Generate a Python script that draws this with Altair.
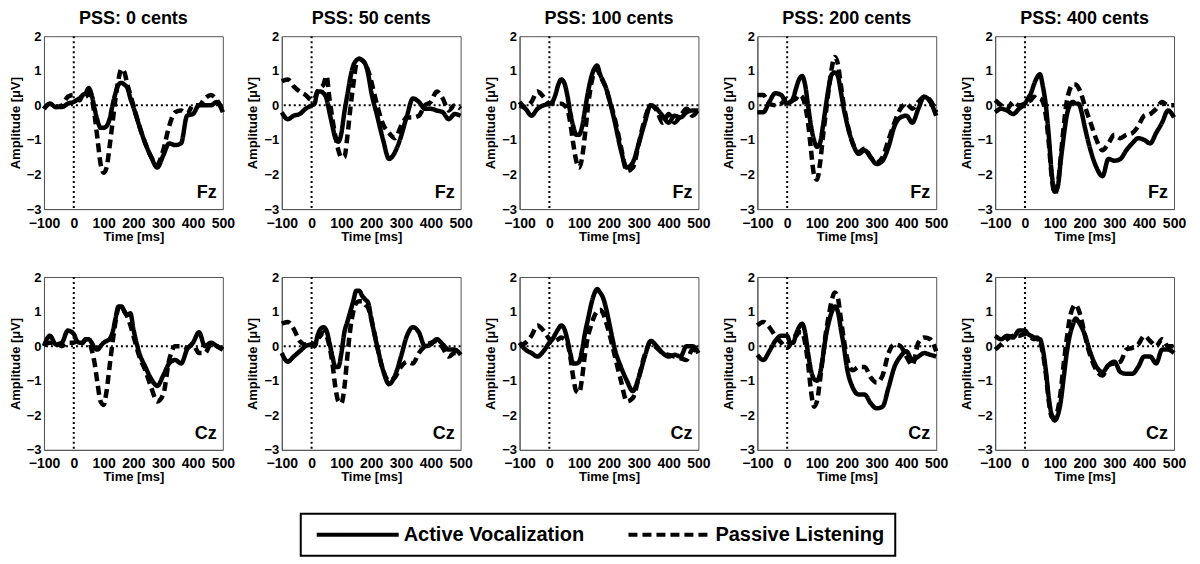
import altair as alt
import pandas as pd

T = [-100, -80, -60, -40, -20] + list(range(0, 201, 10)) + list(range(220, 501, 20))

PSS = ["PSS: 0 cents", "PSS: 50 cents", "PSS: 100 cents", "PSS: 200 cents", "PSS: 400 cents"]
SITES = ["Fz", "Cz"]
CONDS = ["Active Vocalization", "Passive Listening"]
X_TICKS = [-100, 0, 100, 200, 300, 400, 500]
Y_TICKS = [-3, -2, -1, 0, 1, 2]

fz0_act = [-0.1, 0.05, -0.05, -0.05, 0.05, 0.1, 0.15, 0.2, 0.3, 0.35, 0.5, 0.3, -0.1, -0.45, -0.65, -0.65, -0.6, -0.4, 0.0, 0.35, 0.6, 0.65, 0.6, 0.5, 0.2, -0.05, -0.6, -1.1, -1.5, -1.8, -1.45, -1.1, -1.15, -1.1, -0.3, -0.25, 0.0, 0.0, 0.0, 0.1, -0.2]
fz0_pas = [-0.1, 0.05, -0.05, 0.0, 0.25, 0.3, 0.2, 0.15, 0.3, 0.25, 0.35, 0.2, -0.3, -1.0, -1.7, -1.95, -1.8, -1.2, -0.5, 0.2, 0.75, 1.05, 0.95, 0.6, 0.3, 0.0, -0.6, -1.1, -1.5, -1.7, -1.3, -0.6, -0.2, -0.15, -0.25, 0.0, 0.0, 0.2, 0.3, 0.15, -0.15]
fz50_act = [-0.2, -0.4, -0.3, -0.25, -0.1, 0.0, 0.05, 0.4, 0.4, 0.35, 0.2, -0.2, -0.6, -0.95, -1.05, -0.8, -0.2, 0.3, 0.8, 1.15, 1.3, 1.35, 1.3, 1.2, 0.9, 0.4, -0.3, -1.0, -1.55, -1.35, -0.9, -0.3, 0.2, 0.1, -0.1, -0.1, -0.15, -0.2, -0.4, -0.25, -0.3]
fz50_pas = [0.7, 0.75, 0.55, 0.4, 0.3, 0.15, 0.2, 0.4, 0.5, 0.6, 0.85, 0.2, -0.4, -0.9, -1.3, -1.5, -1.5, -0.9, -0.1, 0.6, 1.2, 1.35, 1.3, 1.2, 1.0, 0.7, 0.0, -0.55, -0.8, -0.95, -0.6, -0.35, -0.35, -0.3, 0.0, 0.1, 0.4, 0.2, -0.15, 0.0, -0.1]
fz100_act = [0.0, -0.1, -0.3, -0.1, 0.0, 0.05, 0.1, 0.3, 0.6, 0.75, 0.65, 0.3, -0.2, -0.6, -0.85, -0.85, -0.6, -0.1, 0.4, 0.8, 1.05, 1.15, 0.9, 0.7, 0.5, 0.2, -0.5, -1.3, -1.8, -1.65, -1.1, -0.5, 0.0, -0.1, -0.3, -0.5, -0.3, -0.35, -0.2, -0.15, -0.15]
fz100_pas = [0.1, -0.05, 0.1, 0.4, 0.25, 0.05, 0.05, 0.05, 0.05, 0.05, 0.0, -0.1, -0.5, -1.1, -1.6, -1.8, -1.5, -0.8, 0.0, 0.6, 0.95, 1.05, 0.85, 0.7, 0.5, 0.2, -0.4, -1.2, -1.9, -1.8, -1.1, -0.4, 0.0, -0.15, -0.5, -0.25, -0.5, -0.3, -0.1, -0.3, -0.1]
fz200_act = [-0.2, -0.2, 0.1, 0.35, 0.3, 0.05, 0.1, 0.2, 0.5, 0.75, 0.85, 0.6, 0.0, -0.6, -1.0, -1.2, -1.1, -0.6, 0.0, 0.55, 0.9, 0.95, 0.85, 0.4, -0.1, -0.5, -1.1, -1.4, -1.3, -1.5, -1.7, -1.6, -1.2, -0.6, -0.35, -0.3, -0.5, -0.1, 0.25, 0.1, -0.3]
fz200_pas = [0.3, 0.3, 0.05, 0.0, 0.05, 0.2, 0.1, 0.15, 0.2, 0.3, 0.25, 0.0, -0.5, -1.3, -2.0, -2.15, -1.7, -0.9, -0.2, 0.5, 1.1, 1.4, 1.2, 0.6, 0.0, -0.45, -1.1, -1.35, -1.25, -1.5, -1.65, -1.5, -1.0, -0.5, -0.1, 0.05, -0.1, 0.1, 0.25, 0.15, -0.2]
fz400_act = [-0.2, -0.1, -0.15, -0.25, -0.1, 0.05, 0.2, 0.35, 0.6, 0.8, 0.9, 0.55, 0.0, -0.9, -2.0, -2.5, -2.35, -1.6, -0.9, -0.3, 0.0, 0.1, 0.05, 0.05, -0.2, -0.6, -1.3, -1.8, -2.05, -1.55, -1.6, -1.55, -1.3, -1.1, -0.95, -1.0, -1.1, -0.8, -0.5, -0.15, -0.35]
fz400_pas = [0.15, 0.0, -0.1, 0.1, 0.0, 0.05, 0.1, 0.15, 0.25, 0.2, 0.2, 0.1, -0.3, -1.1, -2.1, -2.55, -2.3, -1.5, -0.6, 0.1, 0.45, 0.6, 0.6, 0.5, 0.3, 0.0, -0.5, -1.0, -1.3, -1.1, -0.85, -0.95, -0.85, -0.8, -0.6, -0.3, -0.25, -0.1, 0.1, 0.0, 0.0]

cz0_act = [0.0, 0.3, 0.05, 0.1, 0.45, 0.35, 0.15, 0.1, 0.1, 0.2, 0.2, 0.1, -0.05, -0.1, 0.0, 0.1, 0.15, 0.2, 0.4, 0.8, 1.15, 1.15, 1.0, 0.9, 0.95, 0.5, -0.2, -0.6, -0.95, -1.15, -0.85, -0.5, -0.4, -0.5, -0.1, 0.1, 0.4, 0.0, 0.1, 0.0, -0.1]
cz0_pas = [0.05, 0.1, 0.1, 0.0, 0.1, 0.1, 0.15, 0.05, 0.1, 0.2, 0.15, -0.1, -0.5, -1.1, -1.6, -1.7, -1.3, -0.6, 0.1, 0.7, 1.1, 1.15, 1.0, 0.85, 0.6, 0.3, -0.3, -0.7, -1.2, -1.6, -1.4, -0.4, 0.0, 0.0, -0.05, 0.05, -0.2, -0.2, 0.05, 0.0, -0.1]
cz50_act = [-0.2, -0.45, -0.3, -0.15, 0.0, 0.05, 0.0, 0.3, 0.5, 0.55, 0.45, 0.1, -0.3, -0.6, -0.6, -0.2, 0.4, 0.7, 1.0, 1.3, 1.6, 1.6, 1.45, 1.35, 1.25, 0.8, 0.0, -0.7, -1.1, -0.85, -0.3, 0.3, 0.55, 0.4, 0.0, 0.05, 0.2, 0.05, -0.1, -0.1, -0.25]
cz50_pas = [0.65, 0.7, 0.5, 0.15, 0.05, 0.1, 0.0, 0.2, 0.3, 0.4, 0.3, 0.0, -0.5, -1.2, -1.6, -1.65, -1.2, -0.3, 0.5, 1.0, 1.25, 1.3, 1.3, 1.2, 1.1, 0.8, 0.0, -0.7, -1.0, -0.9, -0.6, -0.45, -0.5, -0.2, 0.0, 0.1, 0.15, -0.05, -0.3, -0.2, -0.25]
cz100_act = [0.1, -0.1, -0.2, -0.3, -0.15, 0.1, 0.2, 0.35, 0.5, 0.6, 0.5, 0.2, -0.2, -0.5, -0.5, -0.45, -0.1, 0.4, 0.8, 1.2, 1.5, 1.65, 1.55, 1.4, 1.1, 0.7, -0.1, -0.6, -1.0, -1.3, -0.9, -0.3, 0.15, 0.0, -0.2, -0.3, -0.25, -0.3, 0.0, 0.0, -0.2]
cz100_pas = [0.0, 0.1, 0.3, 0.6, 0.45, 0.2, 0.1, 0.15, 0.2, 0.25, 0.2, 0.1, -0.3, -0.9, -1.3, -1.35, -0.9, -0.2, 0.3, 0.6, 0.85, 1.0, 1.05, 0.95, 0.7, 0.4, -0.3, -1.0, -1.6, -1.5, -0.9, -0.25, 0.1, -0.05, -0.2, -0.25, -0.3, -0.35, -0.4, -0.1, -0.2]
cz200_act = [-0.25, -0.4, -0.15, 0.15, 0.3, 0.3, 0.1, 0.1, 0.35, 0.55, 0.65, 0.4, -0.2, -0.7, -0.95, -1.0, -0.8, -0.3, 0.3, 0.7, 1.0, 1.15, 1.0, 0.5, 0.0, -0.6, -1.2, -1.4, -1.4, -1.65, -1.8, -1.75, -1.2, -0.6, -0.3, -0.15, -0.4, -0.3, -0.2, -0.25, -0.3]
cz200_pas = [0.6, 0.7, 0.55, 0.3, 0.1, -0.05, 0.05, 0.25, 0.3, 0.4, 0.4, 0.1, -0.5, -1.3, -1.75, -1.6, -1.0, -0.3, 0.4, 0.9, 1.35, 1.55, 1.4, 0.8, 0.2, -0.3, -0.7, -0.6, -0.6, -0.9, -1.05, -0.85, -0.2, 0.05, 0.0, -0.3, -0.55, 0.1, 0.25, 0.2, -0.15]
cz400_act = [0.3, 0.2, 0.3, 0.25, 0.45, 0.45, 0.35, 0.3, 0.25, 0.2, 0.2, -0.1, -0.7, -1.5, -2.0, -2.15, -2.0, -1.6, -0.9, -0.2, 0.3, 0.6, 0.8, 0.7, 0.55, 0.35, -0.2, -0.6, -0.75, -0.55, -0.45, -0.75, -0.8, -0.8, -0.6, -0.3, -0.3, -0.5, -0.1, -0.1, -0.2]
cz400_pas = [-0.1, 0.05, 0.2, 0.3, 0.3, 0.35, 0.3, 0.25, 0.2, 0.25, 0.15, -0.2, -0.8, -1.6, -2.05, -2.05, -1.85, -1.3, -0.5, 0.2, 0.8, 1.1, 1.2, 1.05, 0.75, 0.35, -0.3, -0.7, -0.85, -0.55, -0.5, -0.45, -0.1, -0.05, 0.05, 0.3, 0.15, 0.0, 0.2, 0.0, 0.0]

SERIES = {
    "Fz": [(fz0_act, fz0_pas), (fz50_act, fz50_pas), (fz100_act, fz100_pas), (fz200_act, fz200_pas), (fz400_act, fz400_pas)],
    "Cz": [(cz0_act, cz0_pas), (cz50_act, cz50_pas), (cz100_act, cz100_pas), (cz200_act, cz200_pas), (cz400_act, cz400_pas)],
}

rows = []
for site in SITES:
    for i, p in enumerate(PSS):
        act, pas = SERIES[site][i]
        for t, a, b in zip(T, act, pas):
            rows.append({"pss": p, "site": site, "cond": CONDS[0], "t": t, "v": a})
            rows.append({"pss": p, "site": site, "cond": CONDS[1], "t": t, "v": b})
df = pd.DataFrame(rows)

FONT = "Liberation Sans"
W, H = 179, 173
one_per_cell = "datum.t == -100 && datum.cond == 'Active Vocalization'"

axis_common = dict(labelOverlap=False, labelFlush=False, ticks=False, grid=False)
x_scale = alt.Scale(domain=[-100, 500], nice=False, zero=False)
y_scale = alt.Scale(domain=[-3, 2], nice=False, zero=False)
x_axis = alt.Axis(values=X_TICKS, title="Time [ms]", labelPadding=7, titlePadding=0,
                  labelFontSize=14, **axis_common)
y_axis = alt.Axis(values=Y_TICKS, title="Amplitude [μV]", labelPadding=3, titlePadding=4,
                  labelFontSize=13, **axis_common)

base = alt.Chart()

zero_h = base.mark_rule(color="black", strokeWidth=2, strokeDash=[2, 3]).encode(
    y=alt.YDatum(0, scale=y_scale, axis=y_axis)).transform_filter(one_per_cell)
zero_v = base.mark_rule(color="black", strokeWidth=2, strokeDash=[2, 3]).encode(
    x=alt.XDatum(0, scale=x_scale, axis=x_axis)).transform_filter(one_per_cell)

legend = alt.Legend(
    title=None, orient="none", legendX=257, legendY=478, direction="horizontal",
    symbolType="M-1,0H15.4", symbolSize=100, symbolStrokeWidth=4,
    symbolStrokeColor="black", labelFont=FONT, labelFontSize=20,
    labelFontWeight="bold", labelColor="black", labelLimit=400,
    strokeColor="black", padding=11, columnPadding=36, labelOffset=72,
)

lines = base.mark_line(strokeWidth=4.5, color="black", interpolate="monotone").encode(
    x=alt.X("t:Q", scale=x_scale, axis=x_axis),
    y=alt.Y("v:Q", scale=y_scale, axis=y_axis),
    strokeDash=alt.StrokeDash(
        "cond:N",
        scale=alt.Scale(domain=CONDS, range=[[1, 0], [9, 5]]),
        legend=legend,
    ),
)

label = base.mark_text(font=FONT, fontSize=18, fontWeight="bold", align="right",
                       baseline="alphabetic", color="black").encode(
    x=alt.value(W - 6), y=alt.value(H - 11), text="site:N").transform_filter(one_per_cell)

layer = alt.layer(zero_h, zero_v, lines, label).properties(width=W, height=H)

chart = layer.facet(
    data=df,
    column=alt.Column("pss:N", sort=PSS, header=alt.Header(
        title=None, labelFont=FONT, labelFontSize=18, labelFontWeight="bold",
        labelColor="black", labelPadding=8)),
    row=alt.Row("site:N", sort=SITES, header=alt.Header(title=None, labels=False)),
    spacing={"row": 68, "column": 59},
    bounds="flush",
).resolve_axis(x="independent", y="independent").properties(
    padding={"left": 0, "top": 2, "right": 5, "bottom": 5}
).configure_view(stroke="#555", strokeWidth=1).configure_axis(
    labelFont=FONT, labelFontWeight="bold", labelColor="black",
    titleFont=FONT, titleFontSize=13, titleFontWeight="bold", titleColor="black",
    domainColor="#555", labelOverlap=False,
).configure_legend(strokeWidth=2)

chart.save("out.html", embed_options={"renderer": "svg", "actions": False})
